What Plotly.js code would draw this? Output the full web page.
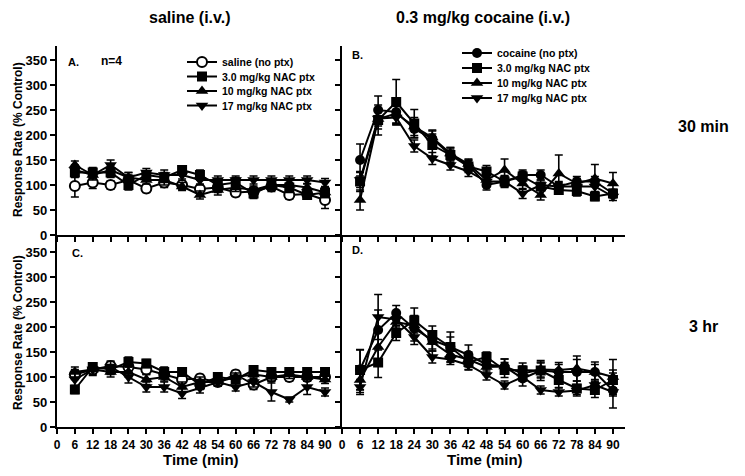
<!DOCTYPE html>
<html>
<head>
<meta charset="utf-8">
<script src="https://cdn.plot.ly/plotly-3.0.1.min.js"></script>
<style>html,body{margin:0;padding:0;background:#fff;}#chart{width:745px;height:476px;}</style>
</head>
<body>
<div id="chart"></div>
<script>
// Time points (min)
const time = [6,12,18,24,30,36,42,48,54,60,66,72,78,84,90];
const xTicks = [0,6,12,18,24,30,36,42,48,54,60,66,72,78,84,90];
const yTicks = [0,50,100,150,200,250,300,350];

const seriesNamesA = ["saline (no ptx)","3.0 mg/kg NAC ptx","10 mg/kg NAC ptx","17 mg/kg NAC ptx"];
const seriesNamesB = ["cocaine (no ptx)","3.0 mg/kg NAC ptx","10 mg/kg NAC ptx","17 mg/kg NAC ptx"];

// Panel A: saline, 30 min
const A_saline = [98,105,100,110,93,105,100,92,95,85,87,97,80,82,70];
const A_saline_err = [22,12,8,10,8,10,8,10,10,8,8,10,8,8,17];
const A_nac3 = [125,125,125,100,120,115,130,120,100,105,83,100,95,80,85];
const A_nac3_err = [10,10,10,10,8,10,8,10,10,10,10,10,10,8,10];
const A_nac10 = [140,120,130,115,110,110,97,80,90,95,90,100,100,95,85];
const A_nac10_err = [8,8,10,10,8,10,8,8,10,8,8,10,10,8,10];
const A_nac17 = [130,120,140,115,125,120,120,110,110,110,110,110,110,110,105];
const A_nac17_err = [10,10,10,10,8,10,8,10,8,8,8,8,8,8,8];

// Panel B: cocaine, 30 min
const B_coc = [150,250,246,212,193,160,140,100,107,120,120,97,107,107,83];
const B_coc_err = [32,28,22,18,15,12,10,10,12,10,10,8,10,10,8];
const B_nac3 = [107,230,266,223,180,160,137,127,107,117,97,90,88,77,83];
const B_nac3_err = [20,30,45,28,22,15,12,12,10,10,8,8,10,8,8];
const B_nac10 = [70,232,243,217,195,163,142,110,130,103,80,123,103,113,103];
const B_nac10_err = [20,20,20,18,15,12,10,10,22,12,10,37,10,28,22];
const B_nac17 = [110,233,235,178,153,140,127,107,107,83,100,97,97,97,77];
const B_nac17_err = [15,15,15,12,12,10,10,10,10,10,10,10,10,10,8];

// Panel C: saline, 3 hr
const C_saline = [105,115,122,120,115,105,95,97,90,105,85,100,100,100,100];
const C_saline_err = [10,8,8,10,10,8,8,8,8,8,10,8,8,8,8];
const C_nac3 = [75,120,115,130,127,110,110,85,100,95,114,110,110,110,110];
const C_nac3_err = [8,8,10,10,8,10,8,10,8,8,8,8,8,8,8];
const C_nac10 = [110,115,110,110,95,100,80,90,90,100,105,100,105,100,95];
const C_nac10_err = [10,10,10,10,10,8,10,10,8,8,8,8,8,8,8];
const C_nac17 = [95,115,120,100,80,80,67,78,90,80,90,70,55,80,70];
const C_nac17_err = [15,12,12,12,10,10,10,10,8,8,10,18,5,15,8];

// Panel D: cocaine, 3 hr
const D_coc = [115,194,228,197,174,160,144,125,121,97,113,110,110,110,73];
const D_coc_err = [40,40,15,25,18,30,20,15,15,15,20,15,25,20,35];
const D_nac3 = [114,129,188,213,184,160,130,140,114,113,113,94,77,74,94];
const D_nac3_err = [40,30,15,25,18,20,15,10,15,15,15,15,15,15,20];
const D_nac10 = [94,160,210,203,170,145,135,120,121,107,115,114,117,110,100];
const D_nac10_err = [25,30,15,20,18,15,15,15,15,15,15,15,25,15,35];
const D_nac17 = [80,220,215,180,140,135,124,104,84,100,74,70,73,84,70];
const D_nac17_err = [15,45,15,15,12,10,10,10,8,8,8,8,8,8,8];

const W = 745, H = 476;
const FONT = "Liberation Sans, Arial, sans-serif";
const px = v => v / W;
const py = v => 1 - v / H;

const symbols = ["circle","square","triangle-up","triangle-down"];
const sizes = [10, 10, 11, 11];

function mk(xa, ya, y, err, i, name, open, legend, show) {
  return {
    type: "scatter", mode: "lines+markers",
    x: time, y: y, name: name,
    xaxis: xa, yaxis: ya,
    showlegend: show, legend: legend,
    line: {color: "#000", width: 2},
    marker: {
      symbol: symbols[i],
      size: sizes[i],
      color: open ? "#fff" : "#000",
      line: {color: "#000", width: open ? 2 : 0}
    },
    error_y: {type: "data", array: err, visible: true, color: "#000", thickness: 1.6, width: 4}
  };
}

const traces = [
  mk("x","y",A_saline,A_saline_err,0,seriesNamesA[0],true,"legend",true),
  mk("x","y",A_nac3,A_nac3_err,1,seriesNamesA[1],false,"legend2",true),
  mk("x","y",A_nac10,A_nac10_err,2,seriesNamesA[2],false,"legend3",true),
  mk("x","y",A_nac17,A_nac17_err,3,seriesNamesA[3],false,"legend4",true),
  mk("x2","y2",B_coc,B_coc_err,0,seriesNamesB[0],false,"legend5",true),
  mk("x2","y2",B_nac3,B_nac3_err,1,seriesNamesB[1],false,"legend6",true),
  mk("x2","y2",B_nac10,B_nac10_err,2,seriesNamesB[2],false,"legend7",true),
  mk("x2","y2",B_nac17,B_nac17_err,3,seriesNamesB[3],false,"legend8",true),
  mk("x3","y3",C_saline,C_saline_err,0,seriesNamesA[0],true,"legend",false),
  mk("x3","y3",C_nac3,C_nac3_err,1,seriesNamesA[1],false,"legend",false),
  mk("x3","y3",C_nac10,C_nac10_err,2,seriesNamesA[2],false,"legend",false),
  mk("x3","y3",C_nac17,C_nac17_err,3,seriesNamesA[3],false,"legend",false),
  mk("x4","y4",D_coc,D_coc_err,0,seriesNamesB[0],false,"legend",false),
  mk("x4","y4",D_nac3,D_nac3_err,1,seriesNamesB[1],false,"legend",false),
  mk("x4","y4",D_nac10,D_nac10_err,2,seriesNamesB[2],false,"legend",false),
  mk("x4","y4",D_nac17,D_nac17_err,3,seriesNamesB[3],false,"legend",false)
];

function xax(domain, range, anchor, labels) {
  return {domain: domain, range: range, anchor: anchor, tickvals: xTicks, ticktext: xTicks.map(String),
    showticklabels: labels, ticks: "outside", ticklen: 5, tickwidth: 2, tickcolor: "#000",
    showline: true, linewidth: 2.2, linecolor: "#000", showgrid: false, zeroline: false,
    tickfont: {family: FONT, size: 12, color: "#000", weight: "bold"}, fixedrange: true};
}
function yax(domain, range, anchor, labels) {
  return {domain: domain, range: range, anchor: anchor, tickvals: yTicks, ticktext: yTicks.map(String),
    showticklabels: labels, ticks: "outside", ticklen: 5, tickwidth: 2, tickcolor: "#000",
    showline: true, linewidth: 2.2, linecolor: "#000", showgrid: false, zeroline: false,
    tickfont: {family: FONT, size: 13, color: "#000", weight: "bold"}, fixedrange: true};
}

const xL = [px(57), px(342)], xR = [px(342), px(625)];
const yT = [py(235), py(46)], yB = [py(427), py(235)];

function ann(text, x, y, size, extra) {
  return Object.assign({text: text, x: px(x), y: py(y), xref: "paper", yref: "paper",
    showarrow: false, xanchor: "center", yanchor: "middle",
    font: {family: FONT, size: size, color: "#000", weight: "bold"}}, extra || {});
}
function leg(x, y) {
  return {x: px(x), y: py(y), xanchor: "left", yanchor: "middle", bgcolor: "rgba(0,0,0,0)",
    font: {family: FONT, size: 10.5, color: "#000", weight: "bold"}, itemwidth: 30, tracegroupgap: 0};
}

const layout = {
  width: W, height: H,
  margin: {l: 0, r: 0, t: 0, b: 0},
  paper_bgcolor: "#fff", plot_bgcolor: "rgba(0,0,0,0)",
  showlegend: true,
  xaxis: xax(xL, [0, 95.7], "y", false),
  yaxis: yax(yT, [0, 378], "x", true),
  xaxis2: xax(xR, [0, 94], "y2", false),
  yaxis2: yax(yT, [0, 378], "x2", false),
  xaxis3: xax(xL, [0, 95.7], "y3", true),
  yaxis3: yax(yB, [0, 384], "x3", true),
  xaxis4: xax(xR, [0, 94], "y4", true),
  yaxis4: yax(yB, [0, 384], "x4", false),
  legend: leg(182, 62),
  legend2: leg(182, 76.5),
  legend3: leg(182, 91),
  legend4: leg(182, 105.5),
  legend5: leg(457, 53),
  legend6: leg(457, 68),
  legend7: leg(457, 83),
  legend8: leg(457, 98),
  annotations: [
    ann("saline (i.v.)", 190, 18, 16),
    ann("0.3 mg/kg cocaine (i.v.)", 483, 18, 16),
    ann("30 min", 703, 127, 16),
    ann("3 hr", 703, 326, 16),
    ann("Time (min)", 201, 459, 15),
    ann("Time (min)", 485, 459, 15),
    ann("Response Rate (% Control)", 18, 140, 12, {textangle: -90}),
    ann("Response Rate (% Control)", 18, 333, 12, {textangle: -90}),
    ann("A.", 73, 62, 11),
    ann("n=4", 112, 61, 12),
    ann("B.", 357, 55, 11),
    ann("C.", 77, 253, 11),
    ann("D.", 357, 250, 11)
  ]
};

Plotly.newPlot("chart", traces, layout, {staticPlot: true, displayModeBar: false});
</script>
</body>
</html>
